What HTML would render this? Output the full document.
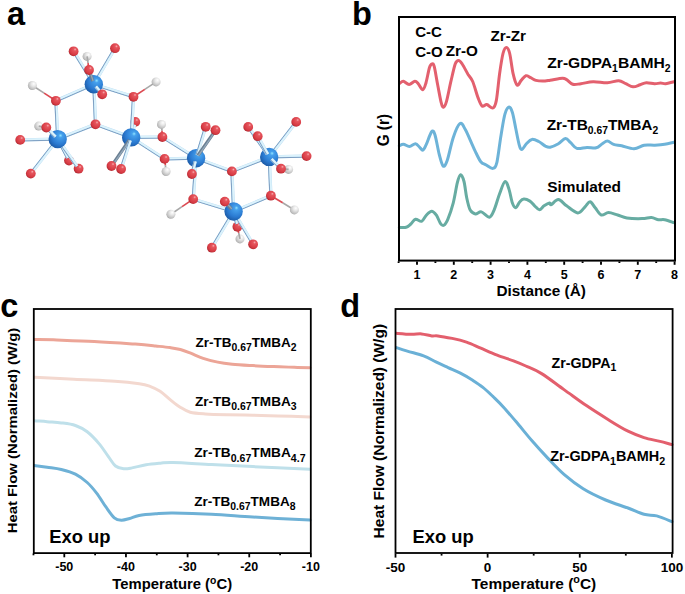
<!DOCTYPE html><html><head><meta charset="utf-8"><style>html,body{margin:0;padding:0;background:#fff;}svg{display:block}</style></head><body>
<svg width="685" height="594" viewBox="0 0 685 594" font-family="Liberation Sans, sans-serif" font-weight="bold">
<rect width="685" height="594" fill="#fff"/>
<text x="7.0" y="24.8" font-size="32.5" text-anchor="start" >a</text>
<text x="352.0" y="24.8" font-size="32.5" text-anchor="start" >b</text>
<text x="0.3" y="316.9" font-size="32.5" text-anchor="start" >c</text>
<text x="340.3" y="316.9" font-size="32.5" text-anchor="start" >d</text>
<defs>
<radialGradient id="gZr" cx="0.6" cy="0.38" r="0.72" fx="0.66" fy="0.3"><stop offset="0" stop-color="#8fe3ff"/><stop offset="0.15" stop-color="#45a0ec"/><stop offset="0.6" stop-color="#2b7bd2"/><stop offset="1" stop-color="#17529c"/></radialGradient>
<radialGradient id="gO" cx="0.6" cy="0.38" r="0.72" fx="0.66" fy="0.3"><stop offset="0" stop-color="#f7b0b3"/><stop offset="0.2" stop-color="#e6565e"/><stop offset="0.7" stop-color="#d63a43"/><stop offset="1" stop-color="#9e2229"/></radialGradient>
<radialGradient id="gH" cx="0.6" cy="0.38" r="0.72" fx="0.66" fy="0.3"><stop offset="0" stop-color="#ffffff"/><stop offset="0.35" stop-color="#e8e8e8"/><stop offset="0.8" stop-color="#bdbdbd"/><stop offset="1" stop-color="#8f8f8f"/></radialGradient>
</defs>
<circle cx="240.0" cy="238.9" r="4.5" fill="url(#gH)"/>
<line x1="240.0" y1="238.9" x2="238.70" y2="232.85" stroke="#a8a8a8" stroke-width="1.7"/><line x1="238.70" y1="232.85" x2="237.4" y2="226.8" stroke="#dc4a52" stroke-width="1.7"/>
<circle cx="135.3" cy="121.9" r="4.9" fill="url(#gO)"/>
<circle cx="69.0" cy="160.6" r="4.9" fill="url(#gO)"/>
<circle cx="237.4" cy="226.8" r="4.9" fill="url(#gO)"/>
<line x1="57.70" y1="139.10" x2="67.63" y2="158.00" stroke="#b9dbf2" stroke-width="3.3"/><line x1="56.77" y1="139.59" x2="66.70" y2="158.49" stroke="#7e9fc2" stroke-width="1.0"/><line x1="58.10" y1="138.89" x2="68.03" y2="157.79" stroke="#dcf3fc" stroke-width="1.8"/>
<line x1="131.20" y1="137.40" x2="134.55" y2="124.74" stroke="#b9dbf2" stroke-width="3.3"/><line x1="130.18" y1="137.13" x2="133.53" y2="124.47" stroke="#7e9fc2" stroke-width="1.0"/><line x1="131.64" y1="137.52" x2="134.98" y2="124.86" stroke="#dcf3fc" stroke-width="1.8"/>
<line x1="233.60" y1="211.50" x2="236.69" y2="223.95" stroke="#b9dbf2" stroke-width="3.3"/><line x1="232.58" y1="211.75" x2="235.67" y2="224.20" stroke="#7e9fc2" stroke-width="1.0"/><line x1="234.04" y1="211.39" x2="237.13" y2="223.84" stroke="#dcf3fc" stroke-width="1.8"/>
<circle cx="78.6" cy="168.7" r="4.9" fill="url(#gO)"/>
<line x1="57.70" y1="139.10" x2="76.90" y2="166.30" stroke="#b9dbf2" stroke-width="3.3"/><line x1="56.84" y1="139.71" x2="76.05" y2="166.90" stroke="#7e9fc2" stroke-width="1.0"/><line x1="58.07" y1="138.84" x2="77.27" y2="166.04" stroke="#dcf3fc" stroke-width="1.8"/>
<line x1="93.80" y1="84.20" x2="75.14" y2="53.81" stroke="#b9dbf2" stroke-width="3.3"/><line x1="92.91" y1="84.75" x2="74.24" y2="54.35" stroke="#7e9fc2" stroke-width="1.0"/><line x1="94.18" y1="83.96" x2="75.52" y2="53.57" stroke="#dcf3fc" stroke-width="1.8"/>
<line x1="93.80" y1="84.20" x2="58.59" y2="99.62" stroke="#b9dbf2" stroke-width="3.3"/><line x1="94.22" y1="85.16" x2="59.01" y2="100.58" stroke="#7e9fc2" stroke-width="1.0"/><line x1="93.62" y1="83.79" x2="58.41" y2="99.21" stroke="#dcf3fc" stroke-width="1.8"/>
<line x1="93.80" y1="84.20" x2="95.38" y2="121.36" stroke="#b9dbf2" stroke-width="3.3"/><line x1="92.75" y1="84.24" x2="94.33" y2="121.41" stroke="#7e9fc2" stroke-width="1.0"/><line x1="94.25" y1="84.18" x2="95.83" y2="121.34" stroke="#dcf3fc" stroke-width="1.8"/>
<line x1="93.80" y1="84.20" x2="113.51" y2="50.73" stroke="#b9dbf2" stroke-width="3.3"/><line x1="92.90" y1="83.67" x2="112.60" y2="50.20" stroke="#7e9fc2" stroke-width="1.0"/><line x1="94.19" y1="84.43" x2="113.90" y2="50.96" stroke="#dcf3fc" stroke-width="1.8"/>
<line x1="93.80" y1="84.20" x2="130.70" y2="95.91" stroke="#b9dbf2" stroke-width="3.3"/><line x1="93.48" y1="85.20" x2="130.38" y2="96.91" stroke="#7e9fc2" stroke-width="1.0"/><line x1="93.94" y1="83.77" x2="130.83" y2="95.48" stroke="#dcf3fc" stroke-width="1.8"/>
<line x1="57.70" y1="139.10" x2="56.04" y2="103.74" stroke="#b9dbf2" stroke-width="3.3"/><line x1="56.65" y1="139.15" x2="54.99" y2="103.79" stroke="#7e9fc2" stroke-width="1.0"/><line x1="58.15" y1="139.08" x2="56.49" y2="103.72" stroke="#dcf3fc" stroke-width="1.8"/>
<line x1="57.70" y1="139.10" x2="92.76" y2="125.37" stroke="#b9dbf2" stroke-width="3.3"/><line x1="58.08" y1="140.08" x2="93.15" y2="126.35" stroke="#7e9fc2" stroke-width="1.0"/><line x1="57.54" y1="138.68" x2="92.60" y2="124.95" stroke="#dcf3fc" stroke-width="1.8"/>
<line x1="57.70" y1="139.10" x2="23.14" y2="139.84" stroke="#b9dbf2" stroke-width="3.3"/><line x1="57.72" y1="140.15" x2="23.16" y2="140.89" stroke="#7e9fc2" stroke-width="1.0"/><line x1="57.69" y1="138.65" x2="23.13" y2="139.39" stroke="#dcf3fc" stroke-width="1.8"/>
<line x1="57.70" y1="139.10" x2="32.61" y2="171.28" stroke="#b9dbf2" stroke-width="3.3"/><line x1="56.87" y1="138.45" x2="31.78" y2="170.64" stroke="#7e9fc2" stroke-width="1.0"/><line x1="58.05" y1="139.38" x2="32.96" y2="171.56" stroke="#dcf3fc" stroke-width="1.8"/>
<line x1="131.20" y1="137.40" x2="98.26" y2="125.31" stroke="#b9dbf2" stroke-width="3.3"/><line x1="130.84" y1="138.39" x2="97.90" y2="126.30" stroke="#7e9fc2" stroke-width="1.0"/><line x1="131.36" y1="136.98" x2="98.42" y2="124.89" stroke="#dcf3fc" stroke-width="1.8"/>
<line x1="131.20" y1="137.40" x2="133.33" y2="99.74" stroke="#b9dbf2" stroke-width="3.3"/><line x1="130.15" y1="137.34" x2="132.29" y2="99.68" stroke="#7e9fc2" stroke-width="1.0"/><line x1="131.65" y1="137.43" x2="133.78" y2="99.76" stroke="#dcf3fc" stroke-width="1.8"/>
<line x1="131.20" y1="137.40" x2="159.46" y2="137.04" stroke="#b9dbf2" stroke-width="3.3"/><line x1="131.21" y1="138.45" x2="159.47" y2="138.09" stroke="#7e9fc2" stroke-width="1.0"/><line x1="131.19" y1="136.95" x2="159.45" y2="136.59" stroke="#dcf3fc" stroke-width="1.8"/>
<line x1="131.20" y1="137.40" x2="162.13" y2="157.31" stroke="#b9dbf2" stroke-width="3.3"/><line x1="130.63" y1="138.28" x2="161.56" y2="158.19" stroke="#7e9fc2" stroke-width="1.0"/><line x1="131.44" y1="137.02" x2="162.37" y2="156.93" stroke="#dcf3fc" stroke-width="1.8"/>
<line x1="196.10" y1="158.20" x2="164.89" y2="138.57" stroke="#b9dbf2" stroke-width="3.3"/><line x1="195.54" y1="159.09" x2="164.33" y2="139.45" stroke="#7e9fc2" stroke-width="1.0"/><line x1="196.34" y1="157.82" x2="165.13" y2="138.18" stroke="#dcf3fc" stroke-width="1.8"/>
<line x1="196.10" y1="158.20" x2="167.54" y2="158.83" stroke="#b9dbf2" stroke-width="3.3"/><line x1="196.12" y1="159.25" x2="167.56" y2="159.88" stroke="#7e9fc2" stroke-width="1.0"/><line x1="196.09" y1="157.75" x2="167.53" y2="158.38" stroke="#dcf3fc" stroke-width="1.8"/>
<line x1="196.10" y1="158.20" x2="229.14" y2="170.38" stroke="#b9dbf2" stroke-width="3.3"/><line x1="195.74" y1="159.19" x2="228.78" y2="171.37" stroke="#7e9fc2" stroke-width="1.0"/><line x1="196.26" y1="157.78" x2="229.30" y2="169.96" stroke="#dcf3fc" stroke-width="1.8"/>
<line x1="196.10" y1="158.20" x2="193.41" y2="196.17" stroke="#b9dbf2" stroke-width="3.3"/><line x1="195.05" y1="158.13" x2="192.36" y2="196.09" stroke="#7e9fc2" stroke-width="1.0"/><line x1="196.55" y1="158.23" x2="193.86" y2="196.20" stroke="#dcf3fc" stroke-width="1.8"/>
<line x1="233.60" y1="211.50" x2="232.02" y2="174.34" stroke="#b9dbf2" stroke-width="3.3"/><line x1="232.55" y1="211.54" x2="230.98" y2="174.38" stroke="#7e9fc2" stroke-width="1.0"/><line x1="234.05" y1="211.48" x2="232.47" y2="174.32" stroke="#dcf3fc" stroke-width="1.8"/>
<line x1="233.60" y1="211.50" x2="196.01" y2="199.96" stroke="#b9dbf2" stroke-width="3.3"/><line x1="233.29" y1="212.50" x2="195.70" y2="200.97" stroke="#7e9fc2" stroke-width="1.0"/><line x1="233.73" y1="211.07" x2="196.14" y2="199.53" stroke="#dcf3fc" stroke-width="1.8"/>
<line x1="233.60" y1="211.50" x2="268.19" y2="196.85" stroke="#b9dbf2" stroke-width="3.3"/><line x1="234.01" y1="212.47" x2="268.60" y2="197.81" stroke="#7e9fc2" stroke-width="1.0"/><line x1="233.42" y1="211.09" x2="268.02" y2="196.43" stroke="#dcf3fc" stroke-width="1.8"/>
<line x1="233.60" y1="211.50" x2="213.41" y2="245.18" stroke="#b9dbf2" stroke-width="3.3"/><line x1="232.70" y1="210.96" x2="212.51" y2="244.64" stroke="#7e9fc2" stroke-width="1.0"/><line x1="233.99" y1="211.73" x2="213.80" y2="245.41" stroke="#dcf3fc" stroke-width="1.8"/>
<line x1="233.60" y1="211.50" x2="251.60" y2="241.77" stroke="#b9dbf2" stroke-width="3.3"/><line x1="232.70" y1="212.04" x2="250.70" y2="242.31" stroke="#7e9fc2" stroke-width="1.0"/><line x1="233.99" y1="211.27" x2="251.98" y2="241.54" stroke="#dcf3fc" stroke-width="1.8"/>
<line x1="269.20" y1="156.90" x2="234.64" y2="170.33" stroke="#b9dbf2" stroke-width="3.3"/><line x1="269.58" y1="157.88" x2="235.02" y2="171.31" stroke="#7e9fc2" stroke-width="1.0"/><line x1="269.04" y1="156.48" x2="234.48" y2="169.92" stroke="#dcf3fc" stroke-width="1.8"/>
<line x1="269.20" y1="156.90" x2="270.77" y2="192.76" stroke="#b9dbf2" stroke-width="3.3"/><line x1="268.15" y1="156.95" x2="269.72" y2="192.81" stroke="#7e9fc2" stroke-width="1.0"/><line x1="269.65" y1="156.88" x2="271.22" y2="192.74" stroke="#dcf3fc" stroke-width="1.8"/>
<line x1="269.20" y1="156.90" x2="294.40" y2="124.23" stroke="#b9dbf2" stroke-width="3.3"/><line x1="268.37" y1="156.26" x2="293.57" y2="123.59" stroke="#7e9fc2" stroke-width="1.0"/><line x1="269.56" y1="157.17" x2="294.76" y2="124.50" stroke="#dcf3fc" stroke-width="1.8"/>
<line x1="269.20" y1="156.90" x2="303.66" y2="156.16" stroke="#b9dbf2" stroke-width="3.3"/><line x1="269.22" y1="157.95" x2="303.68" y2="157.21" stroke="#7e9fc2" stroke-width="1.0"/><line x1="269.19" y1="156.45" x2="303.65" y2="155.71" stroke="#dcf3fc" stroke-width="1.8"/>
<line x1="32.4" y1="85.5" x2="44.15" y2="93.15" stroke="#a8a8a8" stroke-width="1.7"/><line x1="44.15" y1="93.15" x2="55.9" y2="100.8" stroke="#dc4a52" stroke-width="1.7"/>
<line x1="156.1" y1="81.9" x2="144.80" y2="89.35" stroke="#a8a8a8" stroke-width="1.7"/><line x1="144.80" y1="89.35" x2="133.5" y2="96.8" stroke="#dc4a52" stroke-width="1.7"/>
<line x1="161.5" y1="124.4" x2="161.95" y2="130.70" stroke="#a8a8a8" stroke-width="1.7"/><line x1="161.95" y1="130.70" x2="162.4" y2="137.0" stroke="#dc4a52" stroke-width="1.7"/>
<line x1="166.1" y1="171.5" x2="165.35" y2="165.20" stroke="#a8a8a8" stroke-width="1.7"/><line x1="165.35" y1="165.20" x2="164.6" y2="158.9" stroke="#dc4a52" stroke-width="1.7"/>
<line x1="170.9" y1="214.2" x2="182.05" y2="206.65" stroke="#a8a8a8" stroke-width="1.7"/><line x1="182.05" y1="206.65" x2="193.2" y2="199.1" stroke="#dc4a52" stroke-width="1.7"/>
<line x1="294.4" y1="209.9" x2="282.65" y2="202.80" stroke="#a8a8a8" stroke-width="1.7"/><line x1="282.65" y1="202.80" x2="270.9" y2="195.7" stroke="#dc4a52" stroke-width="1.7"/>
<circle cx="93.8" cy="84.2" r="9.2" fill="url(#gZr)"/>
<circle cx="57.7" cy="139.1" r="9.2" fill="url(#gZr)"/>
<circle cx="131.2" cy="137.4" r="9.2" fill="url(#gZr)"/>
<circle cx="196.1" cy="158.2" r="9.2" fill="url(#gZr)"/>
<circle cx="233.6" cy="211.5" r="9.2" fill="url(#gZr)"/>
<circle cx="269.2" cy="156.9" r="9.2" fill="url(#gZr)"/>
<circle cx="73.6" cy="51.3" r="4.9" fill="url(#gO)"/>
<circle cx="55.9" cy="100.8" r="4.9" fill="url(#gO)"/>
<circle cx="95.5" cy="124.3" r="4.9" fill="url(#gO)"/>
<circle cx="115.0" cy="48.2" r="4.9" fill="url(#gO)"/>
<circle cx="133.5" cy="96.8" r="4.9" fill="url(#gO)"/>
<circle cx="20.2" cy="139.9" r="4.9" fill="url(#gO)"/>
<circle cx="30.8" cy="173.6" r="4.9" fill="url(#gO)"/>
<circle cx="162.4" cy="137.0" r="4.9" fill="url(#gO)"/>
<circle cx="164.6" cy="158.9" r="4.9" fill="url(#gO)"/>
<circle cx="231.9" cy="171.4" r="4.9" fill="url(#gO)"/>
<circle cx="193.2" cy="199.1" r="4.9" fill="url(#gO)"/>
<circle cx="270.9" cy="195.7" r="4.9" fill="url(#gO)"/>
<circle cx="211.9" cy="247.7" r="4.9" fill="url(#gO)"/>
<circle cx="253.1" cy="244.3" r="4.9" fill="url(#gO)"/>
<circle cx="296.2" cy="121.9" r="4.9" fill="url(#gO)"/>
<circle cx="306.6" cy="156.1" r="4.9" fill="url(#gO)"/>
<circle cx="32.4" cy="85.5" r="4.5" fill="url(#gH)"/>
<circle cx="156.1" cy="81.9" r="4.5" fill="url(#gH)"/>
<circle cx="161.5" cy="124.4" r="4.5" fill="url(#gH)"/>
<circle cx="166.1" cy="171.5" r="4.5" fill="url(#gH)"/>
<circle cx="170.9" cy="214.2" r="4.5" fill="url(#gH)"/>
<circle cx="294.4" cy="209.9" r="4.5" fill="url(#gH)"/>
<line x1="197.04" y1="155.12" x2="204.84" y2="129.61" stroke="#b9dbf2" stroke-width="3.3"/><line x1="196.04" y1="154.81" x2="203.84" y2="129.30" stroke="#7e9fc2" stroke-width="1.0"/><line x1="197.47" y1="155.25" x2="205.27" y2="129.74" stroke="#dcf3fc" stroke-width="1.8"/>
<line x1="267.35" y1="154.26" x2="249.89" y2="129.31" stroke="#b9dbf2" stroke-width="3.3"/><line x1="266.49" y1="154.86" x2="249.03" y2="129.91" stroke="#7e9fc2" stroke-width="1.0"/><line x1="267.72" y1="154.00" x2="250.25" y2="129.05" stroke="#dcf3fc" stroke-width="1.8"/>
<line x1="92.77" y1="81.15" x2="89.94" y2="72.79" stroke="#6a7f92" stroke-width="3.3"/><line x1="93.15" y1="81.02" x2="90.32" y2="72.66" stroke="#93a8ba" stroke-width="1.3"/>
<line x1="95.86" y1="86.68" x2="100.32" y2="92.04" stroke="#b9dbf2" stroke-width="3.3"/><line x1="95.05" y1="87.35" x2="99.51" y2="92.71" stroke="#7e9fc2" stroke-width="1.0"/><line x1="96.20" y1="86.39" x2="100.67" y2="91.75" stroke="#dcf3fc" stroke-width="1.8"/>
<line x1="55.44" y1="136.80" x2="48.36" y2="129.60" stroke="#b9dbf2" stroke-width="3.3"/><line x1="54.69" y1="137.54" x2="47.61" y2="130.33" stroke="#7e9fc2" stroke-width="1.0"/><line x1="55.76" y1="136.49" x2="48.68" y2="129.28" stroke="#dcf3fc" stroke-width="1.8"/>
<line x1="129.37" y1="140.05" x2="113.17" y2="163.58" stroke="#6a7f92" stroke-width="3.3"/><line x1="129.70" y1="140.28" x2="113.50" y2="163.81" stroke="#93a8ba" stroke-width="1.3"/>
<line x1="130.22" y1="140.47" x2="122.00" y2="166.20" stroke="#b9dbf2" stroke-width="3.3"/><line x1="129.22" y1="140.15" x2="120.99" y2="165.88" stroke="#7e9fc2" stroke-width="1.0"/><line x1="130.65" y1="140.60" x2="122.42" y2="166.34" stroke="#dcf3fc" stroke-width="1.8"/>
<line x1="197.93" y1="155.55" x2="213.83" y2="132.62" stroke="#6a7f92" stroke-width="3.3"/><line x1="198.26" y1="155.78" x2="214.15" y2="132.84" stroke="#93a8ba" stroke-width="1.3"/>
<line x1="195.27" y1="161.31" x2="192.66" y2="171.16" stroke="#b9dbf2" stroke-width="3.3"/><line x1="194.26" y1="161.04" x2="191.64" y2="170.89" stroke="#7e9fc2" stroke-width="1.0"/><line x1="195.71" y1="161.43" x2="193.09" y2="171.27" stroke="#dcf3fc" stroke-width="1.8"/>
<line x1="231.46" y1="209.09" x2="226.75" y2="203.80" stroke="#6a7f92" stroke-width="3.3"/><line x1="231.76" y1="208.83" x2="227.05" y2="203.53" stroke="#93a8ba" stroke-width="1.3"/>
<line x1="267.64" y1="154.09" x2="259.13" y2="138.77" stroke="#b9dbf2" stroke-width="3.3"/><line x1="266.72" y1="154.60" x2="258.21" y2="139.28" stroke="#7e9fc2" stroke-width="1.0"/><line x1="268.03" y1="153.87" x2="259.52" y2="138.55" stroke="#dcf3fc" stroke-width="1.8"/>
<line x1="271.48" y1="159.18" x2="278.92" y2="166.62" stroke="#b9dbf2" stroke-width="3.3"/><line x1="270.73" y1="159.92" x2="278.18" y2="167.36" stroke="#7e9fc2" stroke-width="1.0"/><line x1="271.80" y1="158.86" x2="279.24" y2="166.30" stroke="#dcf3fc" stroke-width="1.8"/>
<circle cx="205.7" cy="126.8" r="4.9" fill="url(#gO)"/>
<circle cx="248.2" cy="126.9" r="4.9" fill="url(#gO)"/>
<circle cx="87.1" cy="56.4" r="4.5" fill="url(#gH)"/>
<circle cx="38.7" cy="126.1" r="4.5" fill="url(#gH)"/>
<circle cx="288.6" cy="169.4" r="4.5" fill="url(#gH)"/>
<line x1="87.1" y1="56.4" x2="88.05" y2="63.20" stroke="#a8a8a8" stroke-width="1.7"/><line x1="88.05" y1="63.20" x2="89.0" y2="70.0" stroke="#dc4a52" stroke-width="1.7"/>
<line x1="38.7" y1="126.1" x2="42.50" y2="126.80" stroke="#a8a8a8" stroke-width="1.7"/><line x1="42.50" y1="126.80" x2="46.3" y2="127.5" stroke="#dc4a52" stroke-width="1.7"/>
<line x1="288.6" y1="169.4" x2="284.80" y2="169.05" stroke="#a8a8a8" stroke-width="1.7"/><line x1="284.80" y1="169.05" x2="281.0" y2="168.7" stroke="#dc4a52" stroke-width="1.7"/>
<circle cx="89.0" cy="70.0" r="4.9" fill="url(#gO)"/>
<circle cx="102.2" cy="94.3" r="4.9" fill="url(#gO)"/>
<circle cx="46.3" cy="127.5" r="4.9" fill="url(#gO)"/>
<circle cx="111.5" cy="166.0" r="4.9" fill="url(#gO)"/>
<circle cx="121.1" cy="169.0" r="4.9" fill="url(#gO)"/>
<circle cx="215.5" cy="130.2" r="4.9" fill="url(#gO)"/>
<circle cx="191.9" cy="174.0" r="4.9" fill="url(#gO)"/>
<circle cx="224.8" cy="201.6" r="4.9" fill="url(#gO)"/>
<circle cx="257.7" cy="136.2" r="4.9" fill="url(#gO)"/>
<circle cx="281.0" cy="168.7" r="4.9" fill="url(#gO)"/>
<path d="M399.8 83.3 C400.4 83.0 401.8 81.1 403.3 81.3 C404.9 81.5 407.2 84.5 409.1 84.5 C411.0 84.5 413.3 81.4 414.9 81.3 C416.4 81.2 417.1 82.5 418.4 83.9 C419.7 85.3 421.5 89.9 422.8 89.7 C424.1 89.5 424.9 86.4 426.0 82.7 C427.1 79.0 428.5 70.6 429.5 67.5 C430.5 64.4 431.1 64.2 431.9 64.0 C432.7 63.8 433.2 62.9 434.2 66.4 C435.2 69.9 436.5 79.0 437.7 85.0 C438.9 91.0 440.2 98.9 441.2 102.6 C442.2 106.3 442.6 107.4 443.5 107.2 C444.4 107.0 445.3 105.5 446.5 101.4 C447.7 97.3 449.2 88.9 450.6 82.7 C452.1 76.5 453.9 67.7 455.2 64.0 C456.5 60.3 457.5 60.5 458.7 60.5 C459.9 60.5 460.6 61.7 462.2 64.0 C463.8 66.3 466.4 71.6 468.1 74.5 C469.9 77.4 471.0 77.6 472.7 81.5 C474.4 85.4 476.5 93.8 478.1 97.9 C479.7 102.0 480.7 104.9 482.1 106.0 C483.6 107.1 485.0 104.3 486.8 104.6 C488.6 104.9 491.3 108.7 492.9 108.0 C494.5 107.3 495.2 106.3 496.3 100.6 C497.4 94.9 498.5 81.5 499.6 73.7 C500.7 65.9 501.9 57.9 503.0 53.5 C504.1 49.1 505.3 47.4 506.4 47.4 C507.5 47.4 508.6 49.1 509.7 53.5 C510.8 57.9 511.9 68.4 513.1 73.7 C514.3 79.0 515.8 84.0 517.1 85.1 C518.5 86.2 519.7 82.0 521.2 80.4 C522.7 78.8 524.3 76.2 525.9 75.7 C527.5 75.2 528.9 76.9 530.6 77.7 C532.3 78.5 534.0 79.8 536.0 80.4 C538.0 81.0 540.3 81.1 542.7 81.1 C545.1 81.1 546.9 80.7 550.2 80.2 C553.5 79.7 559.8 78.3 562.5 78.2 C565.2 78.1 564.9 78.6 566.6 79.6 C568.3 80.6 570.3 83.6 572.7 84.3 C575.1 85.0 577.5 84.1 580.9 83.7 C584.3 83.3 588.7 81.9 593.1 81.7 C597.5 81.5 603.1 82.9 607.4 82.7 C611.7 82.5 615.6 80.5 618.7 80.7 C621.8 80.9 623.4 82.7 625.8 83.7 C628.2 84.7 630.6 86.6 633.0 86.8 C635.4 87.0 637.9 85.4 640.1 84.7 C642.3 84.0 643.9 82.9 646.3 82.7 C648.7 82.5 652.1 83.6 654.5 83.7 C656.9 83.8 658.7 83.1 660.6 83.1 C662.5 83.1 663.5 83.9 665.7 83.7 C667.9 83.5 672.5 82.0 673.9 81.7" fill="none" stroke="#e3606e" stroke-width="3.0" stroke-linejoin="round" stroke-linecap="round"/>
<path d="M399.3 145.8 C400.0 145.5 401.7 144.1 403.4 144.2 C405.1 144.3 407.4 146.6 409.4 146.5 C411.4 146.4 413.8 143.7 415.5 143.8 C417.2 143.9 418.3 146.1 419.5 147.1 C420.7 148.1 421.8 150.5 422.9 150.1 C424.0 149.7 424.8 147.5 426.3 144.4 C427.8 141.3 430.2 133.2 431.7 131.6 C433.1 130.0 433.8 131.3 435.0 135.0 C436.2 138.7 437.8 148.7 439.1 153.9 C440.5 159.1 441.8 164.9 443.1 166.0 C444.5 167.1 445.5 165.3 447.2 160.6 C448.9 155.9 451.1 143.9 453.2 137.7 C455.3 131.5 458.0 124.9 460.0 123.6 C462.0 122.2 463.3 126.1 465.3 129.6 C467.3 133.1 470.4 140.7 472.1 144.4 C473.8 148.1 473.9 148.7 475.4 151.6 C476.8 154.5 479.0 159.5 480.8 161.7 C482.6 163.9 484.2 163.9 486.2 165.0 C488.2 166.1 491.1 168.8 492.9 168.4 C494.7 168.0 495.5 167.8 496.9 162.3 C498.2 156.8 499.6 143.5 501.0 135.4 C502.4 127.3 503.6 118.6 505.0 113.9 C506.4 109.2 507.9 107.3 509.1 107.1 C510.3 106.9 511.3 108.9 512.4 112.5 C513.5 116.1 514.7 123.3 515.8 128.7 C516.9 134.1 518.2 141.3 519.2 144.8 C520.2 148.3 520.7 149.7 521.9 149.5 C523.1 149.3 524.9 145.2 526.6 143.5 C528.3 141.8 530.0 139.7 532.0 139.4 C534.0 139.1 536.5 140.4 538.7 141.5 C540.9 142.6 543.5 145.2 545.4 146.2 C547.3 147.1 548.0 147.6 550.2 147.2 C552.4 146.8 555.9 145.1 558.4 143.7 C560.9 142.3 563.5 138.8 565.5 138.6 C567.5 138.4 568.8 141.1 570.7 142.7 C572.6 144.3 574.1 147.6 576.8 148.4 C579.5 149.2 583.8 147.5 587.0 147.4 C590.2 147.3 593.7 148.4 596.2 147.8 C598.8 147.2 600.4 144.8 602.3 143.7 C604.2 142.6 605.5 141.0 607.4 141.1 C609.3 141.2 611.2 143.5 613.6 144.3 C616.0 145.1 618.3 145.1 621.7 145.8 C625.1 146.6 630.2 148.9 634.0 148.8 C637.8 148.7 640.8 145.8 644.2 145.2 C647.6 144.6 651.1 145.3 654.5 145.2 C657.9 145.0 661.5 144.8 664.7 144.3 C667.9 143.8 672.4 142.6 673.9 142.3" fill="none" stroke="#6db3d8" stroke-width="3.0" stroke-linejoin="round" stroke-linecap="round"/>
<path d="M399.3 227.3 C400.4 227.3 404.2 227.9 406.1 227.3 C408.0 226.8 409.2 225.3 410.8 224.0 C412.4 222.7 413.7 219.8 415.5 219.3 C417.3 218.9 419.8 222.0 421.6 221.3 C423.4 220.6 424.6 216.9 426.3 215.2 C428.0 213.5 430.0 211.2 431.7 211.2 C433.4 211.2 434.9 213.2 436.4 215.2 C437.8 217.2 439.2 221.6 440.4 223.3 C441.6 225.0 442.6 226.0 443.8 225.3 C445.0 224.6 446.2 223.0 447.8 219.3 C449.4 215.6 451.6 209.2 453.2 203.1 C454.8 197.0 456.1 187.6 457.3 182.9 C458.5 178.2 459.5 175.0 460.6 174.8 C461.7 174.6 463.0 177.7 464.0 181.5 C465.0 185.3 465.7 193.0 466.7 197.7 C467.7 202.4 468.7 207.1 470.1 209.8 C471.6 212.5 473.5 213.6 475.4 213.9 C477.3 214.2 479.0 211.4 481.4 211.9 C483.8 212.4 487.4 217.5 489.5 217.2 C491.6 216.8 492.5 213.7 494.2 209.8 C495.9 205.9 497.8 198.4 499.6 193.7 C501.4 189.0 503.4 182.2 505.0 181.5 C506.6 180.8 507.9 186.0 509.1 189.6 C510.3 193.2 511.3 200.1 512.4 203.1 C513.5 206.1 514.6 208.0 515.8 207.8 C517.0 207.6 518.4 203.2 519.8 201.8 C521.1 200.4 522.2 199.2 523.9 199.1 C525.6 199.0 528.1 200.0 529.9 201.1 C531.7 202.2 533.0 204.4 534.6 205.8 C536.2 207.2 537.8 209.8 539.4 209.8 C541.0 209.8 542.4 206.9 544.1 205.8 C545.8 204.7 548.3 203.3 549.5 203.1 C550.7 202.9 549.7 205.3 551.2 204.7 C552.7 204.1 555.8 199.4 558.4 199.6 C561.0 199.8 563.4 203.6 566.6 205.8 C569.8 208.0 574.7 212.7 577.8 212.9 C580.9 213.1 583.0 208.7 585.0 206.8 C587.0 204.9 588.4 201.5 590.1 201.7 C591.8 201.9 593.3 205.6 595.2 207.8 C597.1 210.0 599.1 214.2 601.3 215.0 C603.5 215.8 605.8 212.5 608.5 212.5 C611.2 212.5 614.6 214.1 617.7 215.0 C620.8 215.9 622.8 217.4 626.9 218.0 C631.0 218.6 638.1 218.7 642.2 218.6 C646.3 218.5 648.7 217.4 651.4 217.6 C654.1 217.8 656.3 219.3 658.5 219.7 C660.7 220.0 662.1 219.2 664.7 219.7 C667.3 220.2 672.4 222.2 673.9 222.7" fill="none" stroke="#67aca2" stroke-width="3.0" stroke-linejoin="round" stroke-linecap="round"/>
<rect x="399" y="17" width="276" height="243.60000000000002" fill="none" stroke="#000" stroke-width="2"/>
<line x1="417.0" y1="261.4" x2="417.0" y2="264.79999999999995" stroke="#000" stroke-width="1.9"/><line x1="453.8" y1="261.4" x2="453.8" y2="264.79999999999995" stroke="#000" stroke-width="1.9"/><line x1="490.6" y1="261.4" x2="490.6" y2="264.79999999999995" stroke="#000" stroke-width="1.9"/><line x1="527.4" y1="261.4" x2="527.4" y2="264.79999999999995" stroke="#000" stroke-width="1.9"/><line x1="564.2" y1="261.4" x2="564.2" y2="264.79999999999995" stroke="#000" stroke-width="1.9"/><line x1="601.0" y1="261.4" x2="601.0" y2="264.79999999999995" stroke="#000" stroke-width="1.9"/><line x1="637.8" y1="261.4" x2="637.8" y2="264.79999999999995" stroke="#000" stroke-width="1.9"/><line x1="674.5999999999999" y1="261.4" x2="674.5999999999999" y2="264.79999999999995" stroke="#000" stroke-width="1.9"/>
<line x1="398.6" y1="261.4" x2="398.6" y2="263.0" stroke="#000" stroke-width="1.9"/><line x1="435.4" y1="261.4" x2="435.4" y2="263.0" stroke="#000" stroke-width="1.9"/><line x1="472.2" y1="261.4" x2="472.2" y2="263.0" stroke="#000" stroke-width="1.9"/><line x1="509.0" y1="261.4" x2="509.0" y2="263.0" stroke="#000" stroke-width="1.9"/><line x1="545.8" y1="261.4" x2="545.8" y2="263.0" stroke="#000" stroke-width="1.9"/><line x1="582.6" y1="261.4" x2="582.6" y2="263.0" stroke="#000" stroke-width="1.9"/><line x1="619.4" y1="261.4" x2="619.4" y2="263.0" stroke="#000" stroke-width="1.9"/><line x1="656.2" y1="261.4" x2="656.2" y2="263.0" stroke="#000" stroke-width="1.9"/>
<text x="417.0" y="279.0" font-size="12.5" text-anchor="middle" >1</text>
<text x="453.8" y="279.0" font-size="12.5" text-anchor="middle" >2</text>
<text x="490.6" y="279.0" font-size="12.5" text-anchor="middle" >3</text>
<text x="527.4" y="279.0" font-size="12.5" text-anchor="middle" >4</text>
<text x="564.2" y="279.0" font-size="12.5" text-anchor="middle" >5</text>
<text x="601.0" y="279.0" font-size="12.5" text-anchor="middle" >6</text>
<text x="637.8" y="279.0" font-size="12.5" text-anchor="middle" >7</text>
<text x="674.6" y="279.0" font-size="12.5" text-anchor="middle" >8</text>
<path d="M34.5 339.4 C37.6 339.5 43.4 339.4 53.4 339.8 C63.4 340.2 80.7 340.8 94.3 341.5 C107.9 342.2 125.0 343.4 135.2 344.1 C145.4 344.9 149.8 345.4 155.6 346.0 C161.4 346.6 165.9 347.0 170.0 347.6 C174.1 348.2 177.0 348.6 180.4 349.5 C183.8 350.4 186.9 351.7 190.7 353.2 C194.5 354.7 198.7 356.8 203.2 358.3 C207.7 359.8 212.9 361.1 217.7 362.1 C222.5 363.1 226.3 363.6 232.2 364.2 C238.1 364.8 246.0 365.2 252.9 365.6 C259.8 366.0 266.7 366.3 273.6 366.6 C280.5 366.9 288.3 367.1 294.4 367.3 C300.5 367.5 307.4 367.6 310.0 367.7" fill="none" stroke="#eca597" stroke-width="3.0" stroke-linejoin="round" stroke-linecap="round"/>
<path d="M34.5 377.2 C41.1 377.6 60.5 378.6 73.9 379.3 C87.3 380.0 103.9 380.6 114.8 381.3 C125.7 382.1 133.4 383.0 139.3 383.8 C145.2 384.6 146.5 385.1 150.0 386.3 C153.5 387.6 156.8 389.1 160.1 391.3 C163.4 393.5 166.8 397.0 170.1 399.6 C173.4 402.2 176.8 405.1 180.2 407.2 C183.5 409.3 186.0 411.1 190.2 412.2 C194.4 413.3 199.0 413.5 205.3 413.9 C211.6 414.3 220.0 414.5 227.9 414.7 C235.8 414.9 244.6 415.0 253.0 415.2 C261.4 415.4 268.6 415.6 278.1 415.9 C287.6 416.2 304.7 416.8 310.0 417.0" fill="none" stroke="#f3d8cf" stroke-width="3.0" stroke-linejoin="round" stroke-linecap="round"/>
<path d="M34.5 420.7 C36.6 420.9 42.6 421.3 47.1 421.7 C51.6 422.1 56.6 422.3 61.3 422.9 C66.0 423.5 71.1 424.0 75.4 425.5 C79.7 427.0 83.3 428.8 87.2 431.8 C91.1 434.8 95.5 439.5 99.0 443.6 C102.5 447.7 105.7 452.9 108.4 456.6 C111.2 460.3 113.0 464.0 115.5 466.0 C118.0 468.0 121.0 468.5 123.7 468.8 C126.5 469.1 128.3 468.6 132.0 467.9 C135.7 467.2 141.4 465.6 146.1 464.8 C150.8 464.0 155.8 463.6 160.3 463.2 C164.8 462.8 164.5 462.3 173.0 462.5 C181.5 462.7 198.2 463.9 211.5 464.6 C224.8 465.3 236.5 465.8 252.9 466.6 C269.3 467.4 300.5 468.9 310.0 469.3" fill="none" stroke="#bfe0ea" stroke-width="3.0" stroke-linejoin="round" stroke-linecap="round"/>
<path d="M34.5 465.5 C36.6 465.8 42.6 466.5 47.1 467.2 C51.6 467.9 56.6 468.3 61.3 469.5 C66.0 470.7 71.1 472.0 75.4 474.2 C79.7 476.4 83.7 479.4 87.2 482.5 C90.7 485.6 93.4 489.0 96.6 493.1 C99.8 497.2 103.1 503.1 106.1 507.2 C109.0 511.3 111.8 515.6 114.3 517.8 C116.8 520.0 118.9 520.1 121.4 520.2 C124.0 520.3 126.6 519.3 129.6 518.5 C132.5 517.7 134.8 516.3 139.1 515.5 C143.4 514.7 149.9 514.2 155.6 513.8 C161.2 513.4 163.7 513.0 173.0 513.1 C182.3 513.2 198.2 513.6 211.5 514.3 C224.8 514.9 236.5 516.0 252.9 517.0 C269.3 518.0 300.5 519.6 310.0 520.1" fill="none" stroke="#6eb1d6" stroke-width="3.0" stroke-linejoin="round" stroke-linecap="round"/>
<rect x="33.8" y="309" width="277.0" height="244.10000000000002" fill="none" stroke="#000" stroke-width="1.8"/>
<line x1="64.3" y1="553.5" x2="64.3" y2="557.3" stroke="#000" stroke-width="1.8"/><line x1="125.94999999999999" y1="553.5" x2="125.94999999999999" y2="557.3" stroke="#000" stroke-width="1.8"/><line x1="187.6" y1="553.5" x2="187.6" y2="557.3" stroke="#000" stroke-width="1.8"/><line x1="249.25" y1="553.5" x2="249.25" y2="557.3" stroke="#000" stroke-width="1.8"/><line x1="310.9" y1="553.5" x2="310.9" y2="557.3" stroke="#000" stroke-width="1.8"/>
<line x1="33.474999999999994" y1="553.5" x2="33.474999999999994" y2="555.3" stroke="#000" stroke-width="1.8"/><line x1="95.125" y1="553.5" x2="95.125" y2="555.3" stroke="#000" stroke-width="1.8"/><line x1="156.77499999999998" y1="553.5" x2="156.77499999999998" y2="555.3" stroke="#000" stroke-width="1.8"/><line x1="218.425" y1="553.5" x2="218.425" y2="555.3" stroke="#000" stroke-width="1.8"/><line x1="280.075" y1="553.5" x2="280.075" y2="555.3" stroke="#000" stroke-width="1.8"/>
<text x="64.3" y="570.8" font-size="12.5" text-anchor="middle" >-50</text>
<text x="125.9" y="570.8" font-size="12.5" text-anchor="middle" >-40</text>
<text x="187.6" y="570.8" font-size="12.5" text-anchor="middle" >-30</text>
<text x="249.2" y="570.8" font-size="12.5" text-anchor="middle" >-20</text>
<text x="310.9" y="570.8" font-size="12.5" text-anchor="middle" >-10</text>
<path d="M396.5 333.3 C399.0 333.5 407.1 334.2 411.3 334.3 C415.5 334.4 418.2 333.6 421.6 333.9 C425.0 334.2 429.1 335.6 431.8 335.9 C434.5 336.2 434.5 335.5 437.9 335.9 C441.3 336.3 447.4 337.4 452.2 338.4 C457.0 339.4 461.7 340.5 466.5 342.1 C471.3 343.7 475.7 346.0 480.8 348.2 C485.9 350.4 491.8 353.1 497.2 355.2 C502.6 357.3 508.7 359.1 513.5 360.9 C518.3 362.7 521.1 363.9 525.8 366.0 C530.5 368.1 535.2 369.7 541.6 373.6 C548.0 377.5 556.5 384.3 564.0 389.6 C571.5 394.9 578.9 400.5 586.4 405.6 C593.9 410.7 601.9 415.7 608.8 420.0 C615.7 424.3 622.1 428.3 628.0 431.2 C633.9 434.1 638.7 435.9 644.0 437.6 C649.3 439.3 655.3 440.2 660.0 441.4 C664.7 442.6 670.0 444.1 672.0 444.6" fill="none" stroke="#e35f6d" stroke-width="3.0" stroke-linejoin="round" stroke-linecap="round"/>
<path d="M396.5 347.6 C398.3 348.2 402.8 349.7 407.3 351.1 C411.8 352.5 418.8 354.0 423.6 355.8 C428.4 357.6 431.8 359.9 435.9 361.9 C440.0 363.9 444.0 365.7 448.1 367.6 C452.2 369.5 456.3 371.1 460.4 373.2 C464.5 375.3 468.9 377.9 472.7 380.3 C476.4 382.7 479.5 384.7 482.9 387.4 C486.3 390.1 489.7 393.4 493.1 396.6 C496.5 399.9 499.5 402.7 503.3 406.9 C507.1 411.1 511.2 416.0 516.0 421.6 C520.8 427.2 526.7 434.7 532.0 440.8 C537.3 446.9 542.7 452.8 548.0 458.4 C553.3 464.0 558.1 469.3 564.0 474.4 C569.9 479.5 576.3 484.5 583.2 488.8 C590.1 493.1 598.1 496.8 605.6 500.0 C613.1 503.2 621.6 505.6 628.0 508.0 C634.4 510.4 639.2 513.0 644.0 514.3 C648.8 515.6 652.0 514.7 656.7 515.9 C661.4 517.1 669.5 520.7 672.0 521.7" fill="none" stroke="#6ab0d6" stroke-width="3.0" stroke-linejoin="round" stroke-linecap="round"/>
<rect x="395.5" y="309" width="277.1" height="244" fill="none" stroke="#000" stroke-width="1.8"/>
<line x1="395.5" y1="553.8" x2="395.5" y2="557.5999999999999" stroke="#000" stroke-width="1.8"/><line x1="487.625" y1="553.8" x2="487.625" y2="557.5999999999999" stroke="#000" stroke-width="1.8"/><line x1="579.75" y1="553.8" x2="579.75" y2="557.5999999999999" stroke="#000" stroke-width="1.8"/><line x1="671.875" y1="553.8" x2="671.875" y2="557.5999999999999" stroke="#000" stroke-width="1.8"/>
<line x1="441.5625" y1="553.8" x2="441.5625" y2="555.5999999999999" stroke="#000" stroke-width="1.8"/><line x1="533.6875" y1="553.8" x2="533.6875" y2="555.5999999999999" stroke="#000" stroke-width="1.8"/><line x1="625.8125" y1="553.8" x2="625.8125" y2="555.5999999999999" stroke="#000" stroke-width="1.8"/>
<text x="395.5" y="571.9" font-size="13.5" text-anchor="middle" >-50</text>
<text x="487.6" y="571.9" font-size="13.5" text-anchor="middle" >0</text>
<text x="579.8" y="571.9" font-size="13.5" text-anchor="middle" >50</text>
<text x="671.9" y="571.9" font-size="13.5" text-anchor="middle" >100</text>
<text transform="translate(415.2,37.4) scale(1.004,1)" font-size="15.0">C-C</text>
<text transform="translate(415.2,56.6) scale(1.0038,1)" font-size="15.0">C-O</text>
<text transform="translate(445.78,55.6) scale(1.0167,1)" font-size="15.0">Zr-O</text>
<text transform="translate(490.38,41.3) scale(1.0176,1)" font-size="15.0">Zr-Zr</text>
<text transform="translate(547.26,67.9) scale(1.0427,1)" font-size="15.0">Zr-GDPA<tspan font-size="10.0" dy="4.0">1</tspan><tspan dy="-4.0">BAMH</tspan><tspan font-size="10.0" dy="4.0">2</tspan></text>
<text transform="translate(546.67,129.7) scale(1.0308,1)" font-size="15.0">Zr-TB<tspan font-size="10.0" dy="4.0">0.67</tspan><tspan dy="-4.0">TMBA</tspan><tspan font-size="10.0" dy="4.0">2</tspan></text>
<text transform="translate(547.27,191.8) scale(1.0286,1)" font-size="15.0">Simulated</text>
<text transform="translate(496.51,296.3) scale(0.9888,1)" font-size="15.5">Distance (Å)</text>
<text transform="translate(195.6,346.5) scale(0.999,1)" font-size="13.5">Zr-TB<tspan font-size="10.4" dy="4.4">0.67</tspan><tspan dy="-4.4">TMBA</tspan><tspan font-size="10.4" dy="4.4">2</tspan></text>
<text transform="translate(194.99,405.9) scale(1.006,1)" font-size="13.5">Zr-TB<tspan font-size="10.4" dy="4.4">0.67</tspan><tspan dy="-4.4">TMBA</tspan><tspan font-size="10.4" dy="4.4">3</tspan></text>
<text transform="translate(194.18,457.3) scale(1.0157,1)" font-size="13.5">Zr-TB<tspan font-size="10.4" dy="4.4">0.67</tspan><tspan dy="-4.4">TMBA</tspan><tspan font-size="10.4" dy="4.4">4.7</tspan></text>
<text transform="translate(194.2,506.0) scale(1.003,1)" font-size="13.5">Zr-TB<tspan font-size="10.4" dy="4.4">0.67</tspan><tspan dy="-4.4">TMBA</tspan><tspan font-size="10.4" dy="4.4">8</tspan></text>
<text transform="translate(49.31,542.7) scale(0.9933,1)" font-size="18.5">Exo up</text>
<text transform="translate(412.61,542.6) scale(0.9917,1)" font-size="18.5">Exo up</text>
<text transform="translate(112.3,588.7) scale(1.0302,1)" font-size="14.4">Temperature (<tspan font-size="10.1" dy="-5.2">o</tspan><tspan dy="5.2">C)</tspan></text>
<text transform="translate(471.6,588.6) scale(1.042,1)" font-size="14.8">Temperature (<tspan font-size="10.4" dy="-5.3">o</tspan><tspan dy="5.3">C)</tspan></text>
<text transform="translate(551.47,367.6) scale(1.0323,1)" font-size="13.8">Zr-GDPA<tspan font-size="10.2" dy="3.6">1</tspan></text>
<text transform="translate(550.15,461.2) scale(1.0459,1)" font-size="13.8">Zr-GDPA<tspan font-size="10.2" dy="3.6">1</tspan><tspan dy="-3.6">BAMH</tspan><tspan font-size="10.2" dy="3.6">2</tspan></text>
<text transform="translate(389.0,146.37) rotate(-90) scale(0.9742,1)" font-size="15.8">G (r)</text>
<text transform="translate(16.8,533.29) rotate(-90) scale(1.093,1)" font-size="13.6">Heat Flow (Normalized) (W/g)</text>
<text transform="translate(383.6,538.41) rotate(-90) scale(1.1083,1)" font-size="14.0">Heat Flow (Normalized) (W/g)</text>
</svg></body></html>
